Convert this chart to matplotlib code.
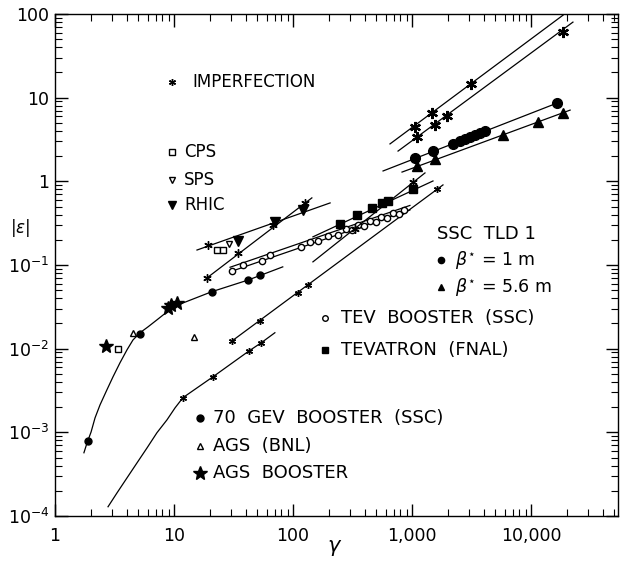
import matplotlib
matplotlib.use("Agg")
import matplotlib.pyplot as plt

# ---------------- data (gamma, |epsilon|) ----------------
# 70 GeV Booster (SSC) intrinsic curve
b70_curve_g = [1.75, 1.86, 2.01, 2.17, 2.39, 2.73, 3.07, 3.52, 4.03, 4.52, 5.18, 6.04, 7.19, 8.73, 10.6, 20.8, 41.8, 82]
b70_curve_e = [5.7e-4, 7.5e-4, 1.01e-3, 1.49e-3, 2.13e-3, 3.22e-3, 4.6e-3, 6.8e-3, 9.7e-3, 0.0127, 0.0155,
               0.0182, 0.0221, 0.0275, 0.0330, 0.048, 0.066, 0.095]
b70_pts_g = [1.9, 5.2, 20.8, 41.8, 52.8]
b70_pts_e = [7.8e-4, 0.0150, 0.048, 0.066, 0.076]

# 70 GeV Booster imperfection curve
b70_imp_g = [2.79, 3.32, 4.03, 4.89, 5.94, 7.19, 8.73, 10.2, 11.9, 21.2, 42.7, 53.8, 70.4]
b70_imp_e = [1.29e-4, 1.89e-4, 2.86e-4, 4.32e-4, 6.53e-4, 9.9e-4, 1.41e-3, 1.96e-3, 2.6e-3, 4.6e-3, 9.4e-3, 0.0117, 0.0155]
b70_imp_pts_g = [11.9, 21.2, 42.7, 53.8]
b70_imp_pts_e = [2.6e-3, 4.6e-3, 9.4e-3, 0.0117]

# TEV booster imperfection line
tevb_imp_g = [30.8, 1820]
tevb_imp_e = [0.0124, 0.906]
tevb_imp_pts_g = [30.8, 52.7, 110, 134, 1620]
tevb_imp_pts_e = [0.0124, 0.0215, 0.0465, 0.058, 0.80]

# RHIC intrinsic and imperfection lines
rhic_int_g = [15.6, 205]
rhic_int_e = [0.151, 0.552]
rhic_tri_g = [34.5, 70.4, 121]
rhic_tri_e = [0.194, 0.327, 0.455]
rhic_imp_g = [18.9, 144]
rhic_imp_e = [0.070, 0.634]
rhic_imp_pts_g = [18.9, 19.3, 34.5, 67.9, 126]
rhic_imp_pts_e = [0.070, 0.174, 0.14, 0.30, 0.552]

# CPS, SPS, AGS (BNL), AGS Booster
cps_g = [3.4, 23, 25.8]
cps_e = [0.0098, 0.151, 0.151]
sps_g = [29]
sps_e = [0.179]
ags_g = [4.5, 14.7]
ags_e = [0.0155, 0.0138]
agsb_g = [2.68, 8.9, 9.5, 10.6]
agsb_e = [0.0108, 0.031, 0.033, 0.035]

# TEV booster (SSC) intrinsic band
tevb_line_g = [29.6, 960]
tevb_line_lo_e = [0.083, 0.455]
tevb_line_hi_e = [0.094, 0.515]
tevb_pts_g = [30.7, 38.0, 54.9, 64.1, 117, 139, 162, 197, 239, 279, 313, 352, 395, 444, 498, 549, 617, 692, 778, 857]
tevb_pts_e = [0.084, 0.10, 0.112, 0.130, 0.162, 0.19, 0.191, 0.225, 0.231, 0.267, 0.264, 0.30, 0.295, 0.335, 0.330, 0.37, 0.367, 0.415, 0.411, 0.46]

# Tevatron (FNAL)
tev_int_g = [147, 1500]
tev_int_e = [0.217, 1.01]
tev_pts_g = [248, 345, 461, 560, 628, 1020]
tev_pts_e = [0.31, 0.40, 0.48, 0.552, 0.583, 0.81]
tev_imp_g = [147, 1285]
tev_imp_e = [0.109, 1.26]
tev_imp_pts_g = [332, 1020]
tev_imp_pts_e = [0.273, 0.97]

# SSC TLD 1
ssc1_g = [571, 16500]
ssc1_e = [1.33, 8.6]
ssc1_pts_g = [1050, 1500, 2200, 2530, 2790, 3070, 3380, 3730, 4110, 16500]
ssc1_pts_e = [1.90, 2.28, 2.83, 3.05, 3.22, 3.40, 3.60, 3.80, 4.01, 8.6]
ssc56_g = [824, 21300]
ssc56_e = [1.29, 7.1]
ssc56_pts_g = [1100, 1560, 5820, 11400, 18600]
ssc56_pts_e = [1.53, 1.85, 3.58, 5.1, 6.6]
ssc_impA_g = [653, 18600]
ssc_impA_e = [2.8, 97]
ssc_impA_pts_g = [1060, 1470, 3130]
ssc_impA_pts_e = [4.47, 6.56, 14.6]
ssc_impB_g = [763, 22500]
ssc_impB_e = [2.3, 80]
ssc_impB_pts_g = [1100, 1560, 1970, 18600]
ssc_impB_pts_e = [3.4, 4.7, 6.0, 61]

xticks = [1, 10, 100, 1000, 10000]
xticklabels = ["1", "10", "100", "1,000", "10,000"]
yticks = [1e-4, 1e-3, 1e-2, 1e-1, 1, 10, 100]
yticklabels = [r"$10^{-4}$", r"$10^{-3}$", r"$10^{-2}$", r"$10^{-1}$", "1", "10", "100"]

# ---------------- figure ----------------
W, H = 626, 561
fig = plt.figure(figsize=(W / 100, H / 100), dpi=100)
L, R, T, B = 55, 618, 14, 516
ax = fig.add_axes([L / W, 1 - B / H, (R - L) / W, (B - T) / H])
ax.set_xscale("log")
ax.set_yscale("log")
ax.set_xlim(1, 5.38e4)
ax.set_ylim(1e-4, 100)

lw = 0.9
k = "black"
AST = (6, 2, 0)

def line(g, e):
    ax.plot(g, e, color=k, lw=lw, solid_joinstyle="round")

def pts(g, e, m, s, fill=True, mew=1.0):
    ax.plot(g, e, ls="none", marker=m, ms=s, mec=k, mfc=k if fill else "white", mew=mew)

line(b70_curve_g, b70_curve_e)
pts(b70_pts_g, b70_pts_e, "o", 5)
line(b70_imp_g, b70_imp_e)
pts(b70_imp_pts_g, b70_imp_pts_e, AST, 5)
line(tevb_imp_g, tevb_imp_e)
pts(tevb_imp_pts_g, tevb_imp_pts_e, AST, 5)
line(rhic_int_g, rhic_int_e)
pts(rhic_tri_g, rhic_tri_e, "v", 7)
line(rhic_imp_g, rhic_imp_e)
pts(rhic_imp_pts_g, rhic_imp_pts_e, AST, 6)
pts(cps_g, cps_e, "s", 4.5, fill=False)
pts(sps_g, sps_e, "v", 5, fill=False)
pts(ags_g, ags_e, "^", 5, fill=False)
pts(agsb_g, agsb_e, "*", 10)
line(tevb_line_g, tevb_line_lo_e)
line(tevb_line_g, tevb_line_hi_e)
pts(tevb_pts_g, tevb_pts_e, "o", 4.5, fill=False)
line(tev_int_g, tev_int_e)
pts(tev_pts_g, tev_pts_e, "s", 6)
line(tev_imp_g, tev_imp_e)
pts(tev_imp_pts_g, tev_imp_pts_e, AST, 6)
line(ssc1_g, ssc1_e)
pts(ssc1_pts_g, ssc1_pts_e, "o", 7)
line(ssc56_g, ssc56_e)
pts(ssc56_pts_g, ssc56_pts_e, "^", 7)
line(ssc_impA_g, ssc_impA_e)
pts(ssc_impA_pts_g, ssc_impA_pts_e, AST, 8, mew=1.6)
line(ssc_impB_g, ssc_impB_e)
pts(ssc_impB_pts_g, ssc_impB_pts_e, AST, 8, mew=1.6)

# axes styling
for s in ax.spines.values():
    s.set_linewidth(1.0)
ax.tick_params(which="both", direction="in", top=True, right=True, labelsize=12.5)
ax.tick_params(which="major", length=9, width=1.0)
ax.tick_params(which="minor", length=5, width=0.8)
ax.set_xticks(xticks)
ax.set_xticklabels(xticklabels)
ax.set_yticks(yticks)
ax.set_yticklabels(yticklabels)
ax.tick_params(axis="x", pad=8)
ax.tick_params(axis="y", pad=4)

def ftxt(px, py, s, size=12, **kw):
    fig.text(px / W, 1 - py / H, s, fontsize=size, va="center", ha="left", **kw)

def fmark(px, py, m, s, fill=True):
    fig.add_artist(plt.Line2D([px / W], [1 - py / H], transform=fig.transFigure,
                              ls="none", marker=m, ms=s, mec=k, mfc=k if fill else "white"))

fig.text(335 / W, 1 - 548 / H, r"$\gamma$", fontsize=15, ha="center", va="center")
fig.text(20 / W, 1 - 228 / H, r"|$\epsilon$|", fontsize=12, ha="center", va="center")

fmark(172, 82, AST, 5)
ftxt(192, 82, "IMPERFECTION")
fmark(172, 152, "s", 4, fill=False)
ftxt(184, 152, "CPS")
fmark(172, 180, "v", 5, fill=False)
ftxt(184, 180, "SPS")
fmark(172, 205, "v", 6)
ftxt(184, 205, "RHIC")

ftxt(437, 234, "SSC  TLD 1", size=13)
fmark(441, 260, "o", 4.5)
ftxt(455, 260, r"$\beta^{\star}$ = 1 m", size=12.5)
fmark(441, 287, "^", 4.5)
ftxt(455, 287, r"$\beta^{\star}$ = 5.6 m", size=12.5)
fmark(325, 318, "o", 4, fill=False)
ftxt(341, 318, "TEV  BOOSTER  (SSC)", size=13)
fmark(325, 350, "s", 4)
ftxt(341, 350, "TEVATRON  (FNAL)", size=13)

fmark(200, 418, "o", 5)
ftxt(213, 418, "70  GEV  BOOSTER  (SSC)", size=13)
fmark(200, 446, "^", 5, fill=False)
ftxt(213, 446, "AGS  (BNL)", size=13)
fmark(200, 473, "*", 10)
ftxt(213, 473, "AGS  BOOSTER", size=13)

fig.savefig("out.png", dpi=100)
